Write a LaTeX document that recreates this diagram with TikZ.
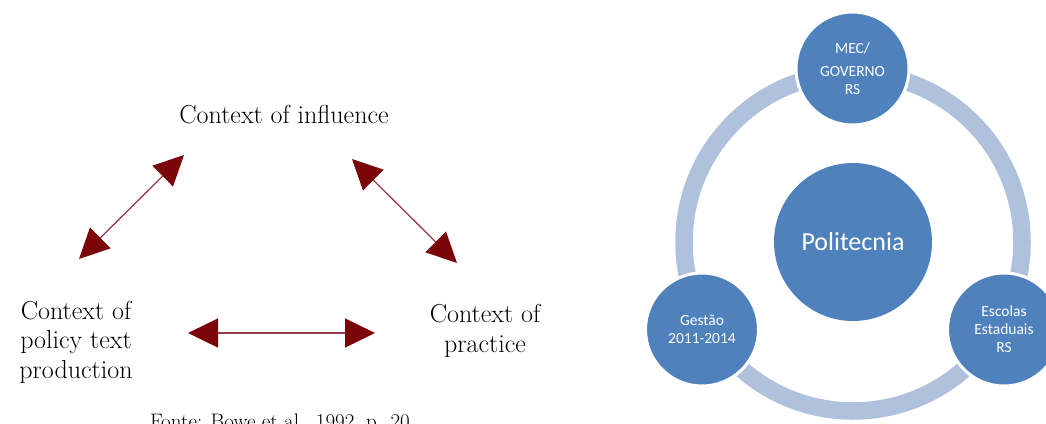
\documentclass[tikz,border=0pt]{standalone}
\usepackage{fontspec}
\newfontfamily\calibri{Carlito}
\usetikzlibrary{arrows.meta}
\definecolor{tipred}{RGB}{122,6,10}
\definecolor{linered}{RGB}{150,60,80}
\definecolor{discblue}{RGB}{79,129,189}
\definecolor{ringblue}{RGB}{176,193,221}

\begin{document}
\begin{tikzpicture}[x=1pt, y=-1pt]
\tikzstyle{every node}=[inner sep=0pt, outer sep=0pt]
\tikzstyle{context}=[align=center, font=\fontsize{26}{29.5}\selectfont]
\tikzstyle{twoway}=[draw=linered, line width=1.3pt,
  {Triangle[length=30pt,width=29pt,color=tipred]}-{Triangle[length=30pt,width=29pt,color=tipred]}]
\tikzstyle{disc}=[circle, fill=discblue, text=white, align=center,
                  font=\calibri\fontsize{15.5}{18}\selectfont]
\tikzstyle{actor}=[disc, minimum size=113pt, draw=white, line width=3pt]
\tikzstyle{ring}=[draw=ringblue, line width=17.5pt]
\useasboundingbox (0,0) rectangle (1046,423);
\clip (0,0) rectangle (1046,423);
% Bowe et al. policy cycle
\node[context, anchor=base] (influence) at (284,123) {Context of influence};
\node[context] (policy) at (76,342) {Context of\\policy text\\production};
\node[context] (practice) at (485,331) {Context of\\practice};
\node[anchor=base, font=\fontsize{21}{24}\selectfont] (fonte) at (280,428) {Fonte: Bowe et al., 1992, p. 20};
\coordinate (infl-l) at (184,155);
\coordinate (infl-r) at (352,159);
\coordinate (pol-t) at (79,259);
\coordinate (pol-r) at (188,333);
\coordinate (prac-t) at (457,263);
\coordinate (prac-l) at (375,333);
\draw[twoway] (pol-t) -- (infl-l);
\draw[twoway] (infl-r) -- (prac-t);
\draw[twoway] (pol-r) -- (prac-l);
% Politecnia
\coordinate (hub) at (853,242);
\draw[ring] (hub) circle[radius=169];
\node[disc, minimum size=158pt, font=\calibri\fontsize{26}{30}\selectfont] (politecnia) at (hub) {Politecnia};
\node[actor] (mec) at (852.5,68.5) {MEC/\\[5pt]GOVERNO\\RS};
\node[actor] (gestao) at (702,329.5) {Gest\~ao\\2011-2014};
\node[actor] (escolas) at (1004,329.5) {Escolas\\Estaduais\\RS};
\end{tikzpicture}
\end{document}
